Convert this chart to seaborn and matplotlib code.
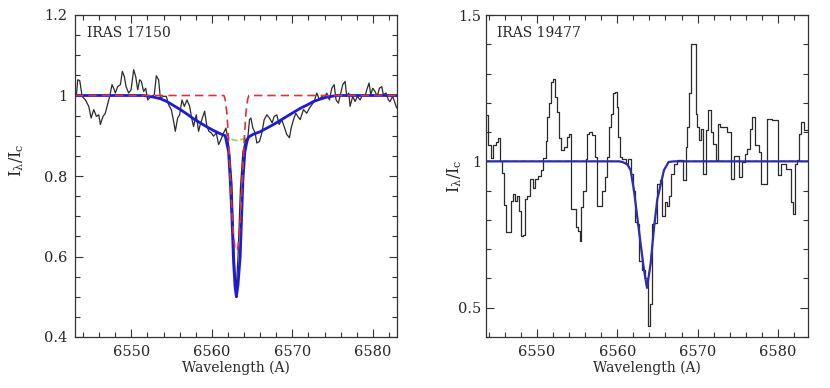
import numpy as np
import pandas as pd
import matplotlib
matplotlib.use("Agg")
import matplotlib.pyplot as plt
from matplotlib.ticker import MultipleLocator
import seaborn as sns

wl_17150 = [6543.18, 6543.34, 6543.59, 6543.88, 6544.29, 6544.71, 6545.00, 6545.33, 6545.66, 6545.95,
            6546.15, 6546.48, 6546.77, 6546.98, 6547.31, 6547.60, 6547.81, 6548.01, 6548.30, 6548.64,
            6548.88, 6549.13, 6549.34, 6549.67, 6549.96, 6550.29, 6550.54, 6550.79, 6551.03, 6551.24,
            6551.53, 6551.78, 6552.03, 6552.27, 6552.56, 6552.85, 6553.10, 6553.39, 6553.60, 6554.01,
            6554.34, 6554.63, 6554.96, 6555.25, 6555.46, 6555.75, 6556.00, 6556.29, 6556.58, 6556.91,
            6557.24, 6557.53, 6557.73, 6558.06, 6558.35, 6558.56, 6558.89, 6559.10, 6559.39, 6559.64,
            6559.93, 6560.21, 6560.55, 6560.84, 6561.12, 6561.46, 6561.75, 6561.95, 6562.20, 6562.50,
            6562.75, 6563.00, 6563.25, 6563.55, 6563.85, 6564.20, 6564.47, 6564.68, 6564.85, 6565.10,
            6565.38, 6565.59, 6565.92, 6566.21, 6566.50, 6566.83, 6567.16, 6567.49, 6567.74, 6568.07,
            6568.36, 6568.69, 6568.98, 6569.31, 6569.64, 6569.85, 6570.14, 6570.43, 6570.68, 6570.97,
            6571.38, 6571.79, 6572.13, 6572.42, 6572.71, 6573.04, 6573.37, 6573.66, 6573.95, 6574.28,
            6574.61, 6574.90, 6575.19, 6575.43, 6575.72, 6576.01, 6576.26, 6576.55, 6576.76, 6577.01,
            6577.17, 6577.50, 6577.79, 6578.08, 6578.41, 6578.74, 6579.03, 6579.24, 6579.53, 6579.74,
            6579.98, 6580.27, 6580.56, 6580.81, 6581.10, 6581.31, 6581.64, 6581.93, 6582.13, 6582.46,
            6582.75, 6582.96]
fl_17150 = [1.002, 1.039, 1.037, 0.998, 0.989, 0.973, 0.944, 0.965, 0.948, 0.952,
            0.928, 0.948, 0.956, 0.973, 0.998, 1.027, 1.018, 1.006, 1.022, 1.027,
            1.060, 1.047, 1.022, 1.006, 1.014, 1.064, 1.047, 1.014, 1.039, 1.035,
            1.010, 1.018, 0.989, 0.994, 0.998, 1.002, 1.049, 1.039, 0.994, 0.998,
            0.998, 0.977, 0.965, 0.936, 0.911, 0.944, 0.952, 0.989, 0.973, 0.989,
            0.973, 0.940, 0.923, 0.952, 0.911, 0.928, 0.948, 0.961, 0.923, 0.911,
            0.907, 0.899, 0.907, 0.878, 0.890, 0.907, 0.919, 0.895, 0.860, 0.780,
            0.620, 0.510, 0.600, 0.770, 0.860, 0.890, 0.895, 0.940, 0.944, 0.919,
            0.907, 0.882, 0.886, 0.907, 0.940, 0.952, 0.944, 0.932, 0.948, 0.952,
            0.928, 0.940, 0.923, 0.903, 0.895, 0.919, 0.940, 0.956, 0.948, 0.940,
            0.965, 0.956, 0.969, 0.977, 0.985, 1.006, 0.989, 0.998, 0.994, 1.006,
            0.989, 1.018, 1.027, 0.989, 0.981, 1.006, 1.027, 1.035, 0.998, 1.006,
            0.973, 0.998, 0.985, 0.998, 0.989, 1.002, 0.998, 1.014, 1.031, 1.002,
            1.018, 1.010, 0.998, 1.018, 1.022, 1.002, 1.006, 0.989, 0.985, 0.998,
            0.981, 0.969]

# IRAS 17150 - fitted components
wl_fit = [6543.0, 6549.46, 6551.53, 6552.77, 6553.6, 6554.42, 6555.25, 6556.08, 6556.91, 6557.73,
          6558.56, 6559.39, 6560.21, 6561.04, 6561.66, 6562.08, 6562.28, 6562.49, 6562.70, 6562.88,
          6563.05, 6563.25, 6563.52, 6563.70, 6563.86, 6564.10, 6564.35, 6564.56, 6565.18, 6566.0,
          6566.83, 6567.66, 6568.49, 6569.31, 6570.14, 6570.97, 6571.79, 6572.62, 6573.45, 6574.28,
          6575.52, 6583.0]
fl_total = [1.0, 1.0, 1.0, 0.996, 0.992, 0.985, 0.975, 0.965, 0.954, 0.942,
            0.932, 0.922, 0.913, 0.905, 0.900, 0.860, 0.790, 0.700, 0.585, 0.525,
            0.500, 0.530, 0.600, 0.700, 0.790, 0.860, 0.885, 0.897, 0.904, 0.910,
            0.919, 0.928, 0.938, 0.948, 0.958, 0.968, 0.976, 0.985, 0.991, 0.996,
            1.0, 1.0]
fl_broad = [1.0, 1.0, 1.0, 0.996, 0.992, 0.985, 0.975, 0.965, 0.954, 0.942,
            0.932, 0.922, 0.913, 0.905, 0.900, 0.895, 0.893, 0.891, 0.890, 0.889,
            0.888, 0.889, 0.890, 0.891, 0.892, 0.894, 0.895, 0.897, 0.904, 0.910,
            0.919, 0.928, 0.938, 0.948, 0.958, 0.968, 0.976, 0.985, 0.991, 0.996,
            1.0, 1.0]
wl_narrow = [6543.0, 6561.5, 6561.66, 6561.87, 6562.08, 6562.28, 6562.50, 6562.70, 6562.88, 6563.05,
             6563.22, 6563.40, 6563.60, 6563.82, 6564.02, 6564.23, 6564.44, 6564.6, 6583.0]
fl_narrow = [1.0, 1.0, 0.99, 0.956, 0.89, 0.80, 0.71, 0.65, 0.62, 0.614,
             0.62, 0.65, 0.71, 0.80, 0.89, 0.956, 0.99, 1.0, 1.0]

# IRAS 19477 - observed spectrum, bin left edges and levels
wl_19477 = [6543.65, 6543.90, 6544.32, 6544.56, 6544.85, 6545.15, 6545.39, 6545.68, 6545.89, 6546.14,
            6546.72, 6546.97, 6547.22, 6547.47, 6547.72, 6547.97, 6548.30, 6548.55, 6548.80, 6549.13,
            6549.46, 6549.71, 6550.12, 6550.46, 6550.79, 6551.08, 6551.29, 6551.54, 6551.78, 6552.03,
            6552.28, 6552.53, 6552.78, 6553.03, 6553.36, 6553.69, 6553.94, 6554.27, 6554.85, 6555.10,
            6555.31, 6555.52, 6555.77, 6556.06, 6556.27, 6556.47, 6556.89, 6557.18, 6557.51, 6558.13,
            6558.42, 6558.67, 6558.96, 6559.17, 6559.50, 6559.67, 6559.92, 6560.08, 6560.33, 6560.62,
            6561.04, 6561.33, 6561.66, 6561.91, 6562.16, 6562.49, 6562.70, 6563.03, 6563.44, 6563.82,
            6564.07, 6564.36, 6564.56, 6564.98, 6565.31, 6565.60, 6565.89, 6566.14, 6566.43, 6566.64,
            6567.05, 6567.47, 6568.22, 6568.51, 6568.71, 6568.92, 6569.13, 6569.75, 6569.96, 6570.17,
            6570.37, 6570.71, 6571.00, 6571.29, 6571.62, 6571.95, 6572.24, 6572.53, 6572.78, 6573.28,
            6573.61, 6574.11, 6574.52, 6575.15, 6575.56, 6575.85, 6576.18, 6576.51, 6576.80, 6577.09,
            6577.63, 6577.93, 6578.59, 6579.29, 6580.00, 6580.33, 6580.95, 6581.24, 6581.58, 6581.83,
            6582.07, 6582.32, 6582.61, 6582.90, 6583.24, 6583.75]
fl_19477 = [1.160, 1.055, 1.010, 1.055, 1.065, 1.080, 1.000, 0.960, 0.850, 0.760,
            0.865, 0.890, 0.865, 0.880, 0.830, 0.745, 0.750, 0.870, 0.880, 0.940,
            0.910, 0.940, 0.950, 0.970, 1.010, 1.070, 1.150, 1.200, 1.270, 1.280,
            1.220, 1.170, 1.080, 1.040, 1.050, 1.083, 1.092, 0.837, 0.775, 0.763,
            0.729, 0.843, 0.900, 1.009, 1.092, 1.100, 1.089, 1.014, 0.849, 0.900,
            0.946, 1.014, 1.117, 1.163, 1.232, 1.237, 1.186, 1.083, 1.014, 1.009,
            0.992, 1.009, 0.957, 0.900, 0.792, 0.786, 0.660, 0.630, 0.600, 0.438,
            0.514, 0.786, 0.790, 0.923, 0.935, 0.815, 0.860, 0.849, 0.883, 0.957,
            0.992, 1.003, 0.935, 1.049, 1.117, 1.232, 1.400, 1.163, 1.117, 1.072,
            1.112, 0.957, 1.106, 1.174, 1.100, 1.060, 1.003, 1.129, 1.117, 1.117,
            1.100, 0.940, 1.020, 0.946, 0.997, 1.026, 1.043, 1.112, 1.152, 1.055,
            1.032, 0.923, 1.146, 1.140, 0.952, 0.992, 0.975, 0.975, 0.860, 0.820,
            0.992, 1.003, 1.095, 1.135, 1.106, 1.106]

# IRAS 19477 - fitted profile
wl_fit2 = [6543.65, 6560.2, 6560.62, 6561.25, 6561.66, 6562.08, 6562.49, 6562.90, 6563.32, 6563.70,
           6564.15, 6564.56, 6564.98, 6565.40, 6565.81, 6566.4, 6567.0, 6583.75]
fl_fit2 = [1.0, 1.0, 0.998, 0.99, 0.97, 0.90, 0.81, 0.72, 0.63, 0.568,
           0.65, 0.77, 0.87, 0.92, 0.97, 0.998, 1.0, 1.0]

sns.set_style("ticks")
plt.rcParams["font.family"] = ["DejaVu Serif"]
plt.rcParams["mathtext.fontset"] = "dejavuserif"

fig = plt.figure(figsize=(8.3, 3.88), dpi=100)
ax1 = fig.add_axes([75 / 830, 51 / 388, 322 / 830, 322 / 388])
ax2 = fig.add_axes([486 / 830, 51 / 388, 322 / 830, 322 / 388])

# left panel
obs1 = pd.DataFrame({"wl": wl_17150, "flux": fl_17150})
sns.lineplot(data=obs1, x="wl", y="flux", ax=ax1, color="#2a2a2a", lw=0.9, estimator=None)
sns.lineplot(x=wl_fit, y=fl_broad, ax=ax1, color="#8fd65a", lw=1.2, linestyle="--", estimator=None)
sns.lineplot(x=wl_fit, y=fl_total, ax=ax1, color="#1c1cd8", lw=2.0, estimator=None)
sns.lineplot(x=wl_narrow, y=fl_narrow, ax=ax1, color="#e0303c", lw=1.2, linestyle=(0, (5, 3)),
             estimator=None)
ax1.set_xlim(6543.0, 6583.0)
ax1.set_ylim(0.4, 1.2)
ax1.yaxis.set_major_locator(MultipleLocator(0.2))
ax1.yaxis.set_minor_locator(MultipleLocator(0.05))
ax1.text(0.037, 0.944, "IRAS 17150", transform=ax1.transAxes, fontsize=10, va="center")

# right panel
obs2 = pd.DataFrame({"wl": wl_19477, "flux": fl_19477})
sns.lineplot(data=obs2, x="wl", y="flux", ax=ax2, color="#2a2a2a", lw=0.9, estimator=None,
             drawstyle="steps-post")
sns.lineplot(x=wl_fit2, y=fl_fit2, ax=ax2, color="#2b2bc8", lw=1.6, estimator=None)
sns.lineplot(x=wl_fit2, y=fl_fit2, ax=ax2, color="#3b2f7a", lw=0.9, linestyle=(0, (4, 3)),
             estimator=None)
ax2.set_xlim(6543.65, 6583.75)
ax2.set_ylim(0.4, 1.5)
ax2.yaxis.set_major_locator(MultipleLocator(0.5))
ax2.yaxis.set_minor_locator(MultipleLocator(0.1))
ax2.text(0.034, 0.944, "IRAS 19477", transform=ax2.transAxes, fontsize=10, va="center")


def fmt(v, pos):
    return "%g" % round(v, 2)


for ax, ypad, lx, ly in [(ax1, 5.5, -0.152, 0.55), (ax2, 3.5, -0.068, 0.5)]:
    ax.xaxis.set_major_locator(MultipleLocator(10))
    ax.xaxis.set_minor_locator(MultipleLocator(2))
    ax.yaxis.set_major_formatter(plt.FuncFormatter(fmt))
    ax.tick_params(which="both", direction="in", top=True, right=True, labelsize=10.5,
                   color="#333333", width=0.8)
    ax.tick_params(which="major", length=6)
    ax.tick_params(which="minor", length=3.5)
    ax.tick_params(axis="y", pad=ypad)
    ax.tick_params(axis="x", pad=6)
    for s in ax.spines.values():
        s.set_linewidth(0.9)
        s.set_color("#333333")
    ax.set_xlabel("Wavelength (A)", fontsize=10, labelpad=1)
    ax.set_ylabel(r"$\mathregular{I_\lambda/I_c}$", fontsize=11.5)
    ax.yaxis.set_label_coords(lx, ly)

fig.savefig("out.png", dpi=100)
